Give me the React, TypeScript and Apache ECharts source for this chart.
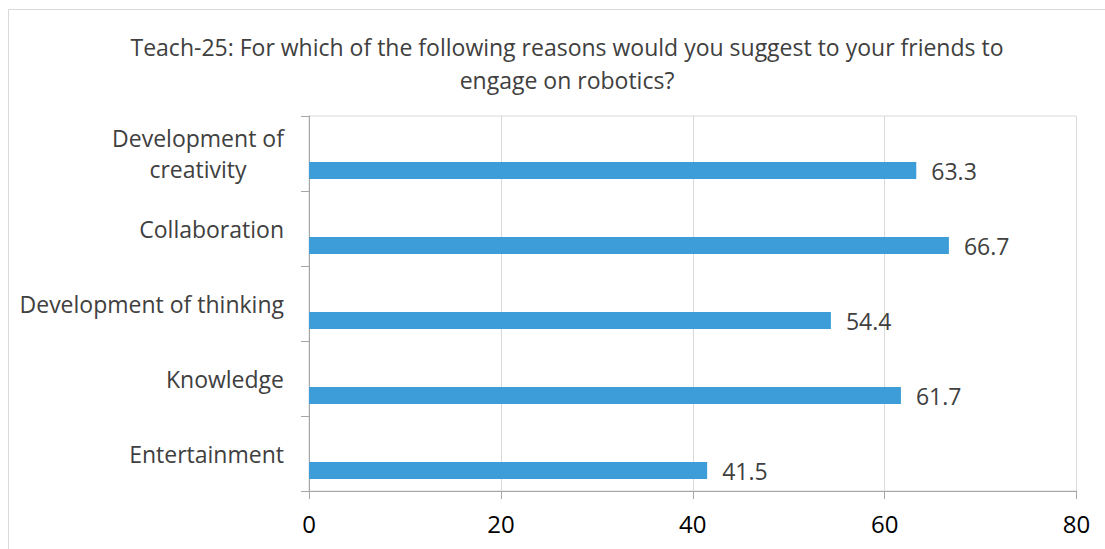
import React, { useEffect, useRef } from "react";
import * as echarts from "echarts";

const titleLines = [
  "Teach-25: For which of the following reasons would you suggest to your friends to",
  "engage on robotics?",
];
// bottom to top
const categories = [
  "Entertainment",
  "Knowledge",
  "Development of thinking",
  "Collaboration",
  "Development of\ncreativity",
];
const values = [41.5, 61.7, 54.4, 66.7, 63.3];
const xMin = 0;
const xMax = 80;
const xInterval = 20;

const FONT = "'Open Sans', 'Noto Sans', sans-serif";

export default function App() {
  const ref = useRef<HTMLDivElement>(null);
  useEffect(() => {
    if (!ref.current) return;
    const chart = echarts.init(ref.current, null, { renderer: "svg" });
    chart.setOption({
      animation: false,
      textStyle: { fontFamily: FONT },
      title: {
        text: titleLines.join("\n"),
        left: 562,
        top: 25,
        textAlign: "center",
        textStyle: {
          fontFamily: FONT,
          fontSize: 23,
          fontWeight: "normal",
          color: "#404040",
          lineHeight: 33,
        },
      },
      graphic: [
        {
          type: "rect",
          shape: { x: 8.5, y: 9.5, width: 1200, height: 600 },
          style: { fill: "none", stroke: "#d9d9d9", lineWidth: 1 },
          silent: true,
        },
      ],
      grid: {
        left: 309,
        top: 116,
        right: 28.5,
        bottom: 58,
        show: true,
        borderColor: "#d9d9d9",
        borderWidth: 1,
        containLabel: false,
      },
      xAxis: {
        type: "value",
        min: xMin,
        max: xMax,
        interval: xInterval,
        axisLine: { show: true, lineStyle: { color: "#a6a6a6", width: 1 } },
        axisTick: { show: true, length: 8, lineStyle: { color: "#a6a6a6" } },
        splitLine: { show: true, lineStyle: { color: "#d9d9d9", width: 1 } },
        axisLabel: {
          fontFamily: FONT,
          fontSize: 24,
          color: "#000000",
          margin: 20,
        },
      },
      yAxis: {
        type: "category",
        data: categories,
        axisLine: { show: true, lineStyle: { color: "#a6a6a6", width: 1 } },
        axisTick: { show: true, length: 8, lineStyle: { color: "#a6a6a6" } },
        splitLine: { show: false },
        axisLabel: {
          fontFamily: FONT,
          fontSize: 23,
          color: "#404040",
          margin: 25,
          lineHeight: 31,
          formatter: (v: string) => {
            if (v.indexOf("\n") >= 0) {
              return v
                .split("\n")
                .map((s) => "{c|" + s + "}")
                .join("\n");
            }
            return v;
          },
          rich: {
            c: {
              fontFamily: FONT,
              fontSize: 23,
              color: "#404040",
              lineHeight: 31,
              width: 172,
              align: "center",
            },
          },
        },
      },
      series: [
        {
          type: "bar",
          data: values.map(() => null),
          barWidth: 17,
          barGap: "100%",
        },
        {
          type: "bar",
          data: values,
          barWidth: 17,
          barGap: "100%",
          itemStyle: { color: "#3c9dd8" },
          label: {
            show: true,
            position: "right",
            distance: 15,
            fontFamily: FONT,
            fontSize: 23,
            color: "#404040",
          },
        },
      ],
    });
    return () => chart.dispose();
  }, []);
  return (
    <div style={{ position: "absolute", left: 0, top: 0, width: 1105, height: 549, overflow: "hidden" }}>
      <div ref={ref} style={{ width: 1105, height: 549 }} />
    </div>
  );
}
